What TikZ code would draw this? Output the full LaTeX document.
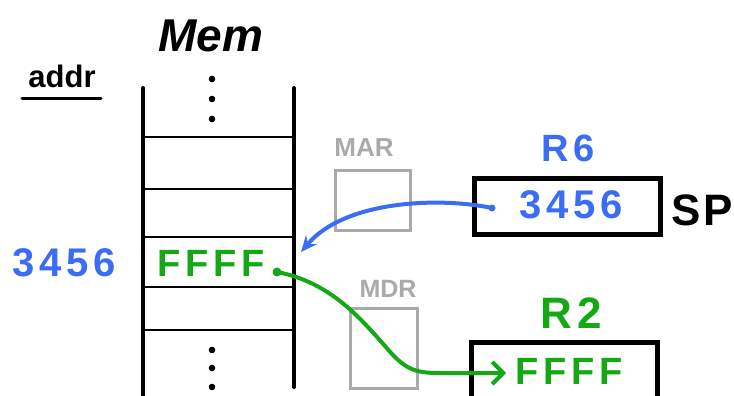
\documentclass[tikz,border=0pt]{standalone}
\usepackage{fontspec}
\setmainfont{Liberation Sans}
\usetikzlibrary{arrows.meta}
\definecolor{hblue}{RGB}{59,108,246}
\definecolor{hgreen}{RGB}{20,168,20}
\definecolor{hgray}{RGB}{170,170,170}
\newcommand{\fs}[1]{\fontsize{#1}{#1}\selectfont\bfseries}
\newcommand{\ls}{\kern5pt}
\begin{document}
\begin{tikzpicture}[x=1pt,y=-1pt,
  memline/.style={line width=4pt,line cap=round},
  cellline/.style={line width=2.6pt},
  regbox/.style={draw,line width=5pt,inner sep=0pt},
  graybox/.style={draw=hgray,line width=3pt,inner sep=0pt},
  txt/.style={inner sep=0pt,anchor=center},
  dotmark/.style={circle,fill,inner sep=0pt,minimum size=7pt},
  ptr/.style={line width=4pt,line cap=round}]
\useasboundingbox (0,0) rectangle (734,396);

% titles
\node[txt,font=\fs{46}\itshape] (mem) at (211,36) {Mem};
\node[txt,font=\fs{31},anchor=base] (addr) at (62,88) {addr};
\draw[line width=3pt,line cap=round] (22,99) -- (101,99);

% memory column
\draw[memline] (143,88) -- (143,398);
\draw[memline] (294,88) -- (294,387);
\foreach \y in {137,189,237,287,330} \draw[cellline] (145,\y) -- (292,\y);
\foreach \y in {79,99,119,350,368,387} \fill (212,\y) circle (3.3pt);

\node[txt,font=\fs{40},text=hblue] (addrval) at (64,263) {3\ls4\ls5\ls6};
\node[txt,font=\fs{38},text=hgreen] (cell) at (211,263) {F\ls F\ls F\ls F};

% MAR / MDR
\node[txt,font=\fs{26},text=hgray] (marlbl) at (364,148) {MAR};
\node[graybox,minimum width=75pt,minimum height=60pt] (mar) at (372.5,200) {};
\node[txt,font=\fs{25},text=hgray] (mdrlbl) at (388,289) {MDR};
\node[graybox,minimum width=67pt,minimum height=80pt] (mdr) at (383.5,348) {};

% R6
\node[txt,font=\fs{38},text=hblue] (r6lbl) at (568,148) {R\ls6};
\node[regbox,minimum width=186pt,minimum height=56pt] (r6) at (567,206) {};
\node[txt,font=\fs{40},text=hblue] (r6val) at (571,205) {3\ls4\ls5\ls6};
\node[txt,font=\fs{44}] (sp) at (702,210) {S\kern3pt P};

% R2
\node[txt,font=\fs{44},text=hgreen] (r2lbl) at (571,313) {R\ls2};
\draw[line width=5pt] (471,400) |- (657,342) -- (657,400);
\node[txt,font=\fs{38},text=hgreen] (r2val) at (569,371) {F\ls F\ls F\ls F};

% pointers
\coordinate (bdot) at (492,208);
\coordinate (btip) at (301,252);
\node[dotmark,fill=hblue] (bd) at (bdot) {};
\draw[ptr,hblue,-{Stealth[length=16pt,width=14pt]}] (bdot) .. controls (440,197) and (345,200) .. (btip);

\coordinate (gdot) at (277,272);
\coordinate (gmid) at (385,346);
\coordinate (gtip) at (506,373);
\node[dotmark,fill=hgreen,minimum size=9pt] (gd) at (gdot) {};
\draw[ptr,hgreen,-{Straight Barb[length=11pt,width=22pt,line width=4pt]}] (gdot) .. controls (330,282) and (360,318) .. (gmid) .. controls (405,370) and (415,373) .. (440,373) -- (gtip);
\end{tikzpicture}
\end{document}
